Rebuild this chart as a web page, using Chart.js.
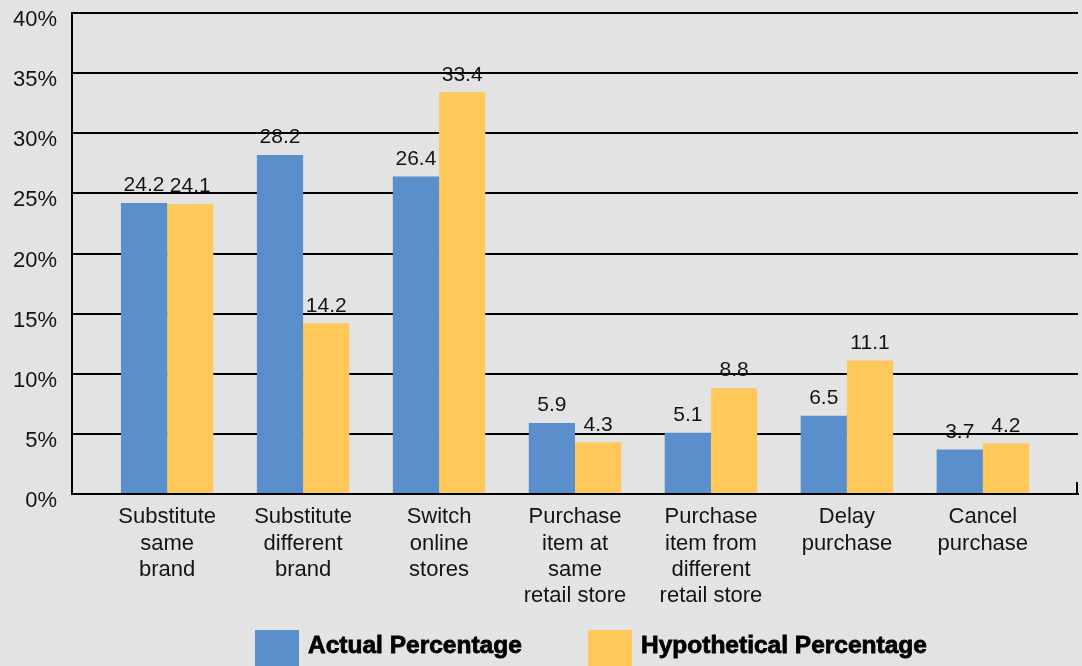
<!DOCTYPE html>
<html>
<head>
<meta charset="utf-8">
<title>Response to out-of-stock items</title>
<script src="https://cdn.jsdelivr.net/npm/chart.js@4.4.0/dist/chart.umd.min.js"></script>
<style>
  html, body { margin: 0; padding: 0; background: #e3e3e3; }
  #wrap { width: 1082px; height: 666px; }
</style>
</head>
<body>
<div id="wrap"><canvas id="oosChart" width="1082" height="666"></canvas></div>
<script>
// --- Chart data ---
const categories = [
    ['Substitute', 'same', 'brand'],
    ['Substitute', 'different', 'brand'],
    ['Switch', 'online', 'stores'],
    ['Purchase', 'item at', 'same', 'retail store'],
    ['Purchase', 'item from', 'different', 'retail store'],
    ['Delay', 'purchase'],
    ['Cancel', 'purchase']
];
const actualPct = [24.2, 28.2, 26.4, 5.9, 5.1, 6.5, 3.7];
const hypotheticalPct = [24.1, 14.2, 33.4, 4.3, 8.8, 11.1, 4.2];
const seriesNames = ['Actual Percentage', 'Hypothetical Percentage'];
const yMin = 0, yMax = 40, yStep = 5;

const BLUE = '#5a8fcb';
const YELLOW = '#fec85a';
const INK = '#141414';
const FONT = '"Liberation Sans", Arial, sans-serif';

// value labels above every bar
const barValueLabels = {
    id: 'barValueLabels',
    afterDatasetsDraw(chart) {
        const ctx = chart.ctx;
        ctx.save();
        ctx.font = '21px ' + FONT;
        ctx.fillStyle = INK;
        ctx.textAlign = 'center';
        ctx.textBaseline = 'bottom';
        chart.data.datasets.forEach((ds, di) => {
            chart.getDatasetMeta(di).data.forEach((bar, i) => {
                ctx.fillText(ds.data[i].y.toFixed(1), bar.x, bar.y - 7);
            });
        });
        ctx.restore();
    }
};

// small closing stub at the right end of the baseline + legend row
const frameAndLegend = {
    id: 'frameAndLegend',
    afterDraw(chart) {
        const ctx = chart.ctx;
        const area = chart.chartArea;
        ctx.save();
        ctx.strokeStyle = '#000';
        ctx.lineWidth = 2;
        ctx.beginPath();
        ctx.moveTo(area.right - 1, area.bottom);
        ctx.lineTo(area.right - 1, area.bottom - 12);
        ctx.stroke();

        const itemX = [255, 588];
        ctx.font = 'bold 24.5px ' + FONT;
        ctx.textBaseline = 'middle';
        ctx.textAlign = 'left';
        chart.data.datasets.forEach((ds, di) => {
            const x = itemX[di];
            ctx.fillStyle = ds.backgroundColor;
            ctx.fillRect(x, 630, 44, 40);
            ctx.fillStyle = '#000';
            ctx.strokeStyle = '#000';
            ctx.lineWidth = 0.8;
            ctx.fillText(ds.label, x + 53, 646);
            ctx.strokeText(ds.label, x + 53, 646);
        });
        ctx.restore();
    }
};

new Chart(document.getElementById('oosChart'), {
    type: 'bar',
    data: {
        datasets: [
            {
                label: seriesNames[0],
                data: actualPct.map((v, i) => ({ x: i, y: v })),
                backgroundColor: BLUE,
                categoryPercentage: 0.68,
                barPercentage: 1
            },
            {
                label: seriesNames[1],
                data: hypotheticalPct.map((v, i) => ({ x: i, y: v })),
                backgroundColor: YELLOW,
                categoryPercentage: 0.68,
                barPercentage: 1
            }
        ]
    },
    options: {
        responsive: false,
        devicePixelRatio: 1,
        animation: false,
        layout: { padding: { top: 13, right: 4, left: 0, bottom: 42 } },
        plugins: { legend: { display: false }, tooltip: { enabled: false } },
        scales: {
            x: {
                type: 'linear',
                offset: false,
                min: -0.7,
                max: categories.length - 0.3,
                afterBuildTicks: scale => { scale.ticks = categories.map((_, i) => ({ value: i })); },
                afterFit: scale => {
                    scale.height = 130;
                    scale.paddingLeft = 0;
                    scale.paddingRight = 0;
                },
                grid: { display: false },
                border: { color: '#000', width: 2 },
                ticks: {
                    autoSkip: false,
                    maxRotation: 0,
                    padding: 2,
                    color: INK,
                    font: { family: FONT, size: 22, lineHeight: 1.2 },
                    callback: value => categories[value] || ''
                }
            },
            y: {
                min: yMin,
                max: yMax,
                afterFit: scale => {
                    scale.width = 72;
                    scale.paddingTop = 0;
                    scale.paddingBottom = 0;
                },
                grid: { color: '#000', lineWidth: 2, drawTicks: false },
                border: { color: '#000', width: 2 },
                ticks: {
                    stepSize: yStep,
                    padding: 15,
                    labelOffset: 7,
                    color: INK,
                    font: { family: FONT, size: 22 },
                    callback: value => value + '%'
                }
            }
        }
    },
    plugins: [barValueLabels, frameAndLegend]
});
</script>
</body>
</html>
